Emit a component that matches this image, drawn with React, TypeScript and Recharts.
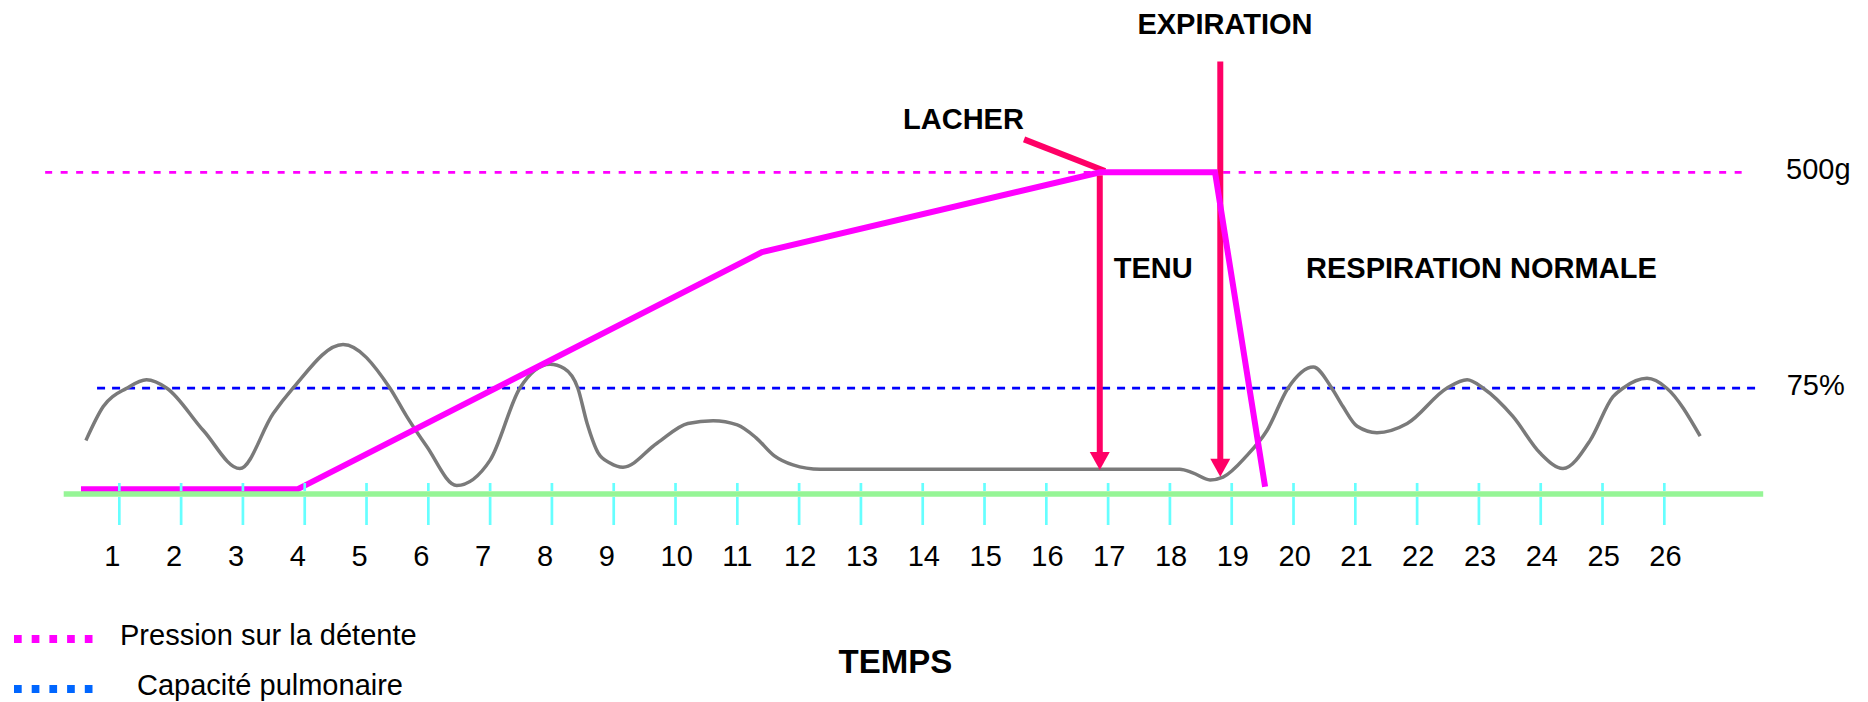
import {
  LineChart,
  Line,
  XAxis,
  YAxis,
  ReferenceLine,
  ReferenceDot,
  Legend,
} from 'recharts'

// time axis (seconds)
const timeTicks = [1, 2, 3, 4, 5, 6, 7, 8, 9, 10, 11, 12, 13, 14, 15, 16, 17, 18, 19, 20, 21, 22, 23, 24, 25, 26]

// lung capacity curve (%)
const breathTime = [
  0.46, 0.74, 1.12, 1.44, 1.77, 2.36, 2.95, 3.49, 3.81, 4.62, 5.38, 5.65, 5.97, 6.46, 7.0, 7.48,
  7.97, 8.2, 8.42, 8.57, 8.75, 8.94, 9.15, 9.7, 10.2, 10.61, 11.0, 11.3, 11.6, 11.9, 12.34, 18.16,
  18.37, 18.65, 18.86, 19.24, 19.57, 19.91, 20.32, 20.62, 20.8, 21.03, 21.35, 21.84, 22.48, 22.81,
  23.07, 23.55, 23.99, 24.36, 24.8, 25.17, 25.33, 25.72, 26.04, 26.58,
]
const breathLevel = [
  38, 62, 75, 81, 75, 45, 18, 57, 75, 106, 75, 55, 34, 6, 24, 75,
  92, 89, 75, 50, 29, 22, 19, 36, 50, 52, 49, 40, 27, 20.6, 17.5, 17.5,
  15, 10, 12, 27, 45, 75, 90, 75, 62, 48, 43.5, 50, 75, 81,
  75, 55, 29, 18, 38, 69, 75, 82, 75, 41,
]

// trigger pressure (g)
const pressureTime = [0.38, 3.88, 11.4, 16.87, 18.73, 19.54]
const pressureGrams = [0, 0, 374, 500, 500, 4]

const triggerWeight = 500
const capacityMark = 75

const legendItems = [
  { label: 'Pression sur la détente', color: '#ff00ff' },
  { label: 'Capacité pulmonaire', color: '#0066ff' },
]

const breathData = breathTime.map((t, i) => ({ t, v: breathLevel[i] }))
const pressureData = pressureTime.map((t, i) => ({ t, g: pressureGrams[i] }))

const FONT = "'Liberation Sans', Arial, sans-serif"
const CRIMSON = '#ff0066'

// annotation texts, placed on the pressure axis
const notes = [
  { text: 'EXPIRATION', t: 18.89, g: 718, anchor: 'middle', bold: true },
  { text: 'LACHER', t: 14.66, g: 569, anchor: 'middle', bold: true },
  { text: 'TENU', t: 17.73, g: 334, anchor: 'middle', bold: true },
  { text: 'RESPIRATION NORMALE', t: 23.04, g: 334, anchor: 'middle', bold: true },
  { text: `${triggerWeight}g`, t: 27.97, g: 490, anchor: 'start', bold: false },
  { text: `${capacityMark}%`, t: 27.98, g: 148, anchor: 'start', bold: false },
]

function TimeTick({ x, y, payload }: any) {
  return (
    <g>
      <line x1={x} x2={x} y1={y - 11} y2={y - 3} stroke="#66ffff" strokeWidth={2.7} />
      <line x1={x} x2={x} y1={y + 3} y2={y + 31} stroke="#66ffff" strokeWidth={2.7} />
      <text x={x} dx={-15} y={y + 72} fontSize={29} fontFamily={FONT} fill="#000">
        {payload.value}
      </text>
    </g>
  )
}

function ArrowShape({ x1, y1, x2, y2 }: any) {
  return (
    <g>
      <line x1={x1} y1={y1} x2={x2} y2={y2 - 16} stroke={CRIMSON} strokeWidth={6} />
      <polygon points={`${x2 - 10},${y2 - 18} ${x2 + 10},${y2 - 18} ${x2},${y2}`} fill={CRIMSON} />
    </g>
  )
}

function renderLegend() {
  return (
    <svg width={500} height={84}>
      {legendItems.map((it, i) => (
        <g key={it.label}>
          <line x1={14} x2={93} y1={21 + 50 * i} y2={21 + 50 * i} stroke={it.color} strokeWidth={8} strokeDasharray="7.7 10" />
          <text x={i ? 137 : 120} y={27 + 50 * i} fontSize={29} fontFamily={FONT} fill="#000">
            {it.label}
          </text>
        </g>
      ))}
    </svg>
  )
}

function renderTemps({ viewBox }: any) {
  return (
    <text
      x={viewBox.x + viewBox.width / 2 - 18}
      y={viewBox.y + 179}
      textAnchor="middle"
      fontSize={33}
      fontWeight="bold"
      fontFamily={FONT}
      fill="#000"
    >
      TEMPS
    </text>
  )
}

export default function App() {
  return (
    <div style={{ position: 'fixed', left: 0, top: 0, width: 1868, height: 702, background: '#fff' }}>
      <LineChart width={1868} height={702} margin={{ top: 45.5, right: 104.8, left: 63.7, bottom: 0 }}>
        <XAxis
          type="number"
          dataKey="t"
          domain={[0.1, 27.6]}
          allowDataOverflow
          ticks={timeTicks}
          interval={0}
          height={208}
          tickSize={0}
          tickMargin={0}
          tickLine={false}
          axisLine={{ stroke: '#96f596', strokeWidth: 5.7 }}
          tick={<TimeTick />}
          label={renderTemps}
        />
        <YAxis yAxisId="p" type="number" domain={[-7.4, 700]} allowDataOverflow hide />
        <YAxis yAxisId="c" type="number" domain={[0, 318]} allowDataOverflow hide />

        <ReferenceLine
          yAxisId="p"
          segment={[{ x: -0.2, y: triggerWeight }, { x: 27.35, y: triggerWeight }]}
          stroke="#ff00ff"
          strokeWidth={2.7}
          strokeDasharray="7 8.5"
          ifOverflow="visible"
        />
        <ReferenceLine
          yAxisId="c"
          segment={[{ x: 0.64, y: capacityMark }, { x: 27.5, y: capacityMark }]}
          stroke="#0000ff"
          strokeWidth={2.7}
          strokeDasharray="8 7"
          ifOverflow="visible"
        />

        <Line
          data={breathData}
          yAxisId="c"
          dataKey="v"
          type="monotone"
          stroke="#7a7a7a"
          strokeWidth={3.5}
          dot={false}
          isAnimationActive={false}
        />

        <ReferenceLine
          yAxisId="p"
          segment={[{ x: 15.64, y: 552 }, { x: 16.95, y: 502 }]}
          stroke={CRIMSON}
          strokeWidth={6}
          ifOverflow="visible"
        />
        <ReferenceLine
          yAxisId="c"
          segment={[{ x: 16.865, y: 226 }, { x: 16.865, y: 17 }]}
          shape={ArrowShape}
          ifOverflow="visible"
        />
        <ReferenceLine
          yAxisId="c"
          segment={[{ x: 18.815, y: 306.6 }, { x: 18.815, y: 12.3 }]}
          shape={ArrowShape}
          ifOverflow="visible"
        />

        <Line
          data={pressureData}
          yAxisId="p"
          dataKey="g"
          type="linear"
          stroke="#ff00ff"
          strokeWidth={6}
          dot={false}
          isAnimationActive={false}
        />

        {notes.map((n) => (
          <ReferenceDot
            key={n.text}
            yAxisId="p"
            x={n.t}
            y={n.g}
            ifOverflow="visible"
            shape={(p: any) => (
              <text
                x={p.cx}
                y={p.cy}
                textAnchor={n.anchor as any}
                fontSize={29}
                fontWeight={n.bold ? 'bold' : 'normal'}
                fontFamily={FONT}
                fill="#000"
              >
                {n.text}
              </text>
            )}
          />
        ))}

        <Legend
          layout="horizontal"
          verticalAlign="middle"
          align="center"
          width={500}
          height={84}
          wrapperStyle={{ left: 0, top: 618, width: 500, height: 84 }}
          content={renderLegend}
        />
      </LineChart>
    </div>
  )
}
